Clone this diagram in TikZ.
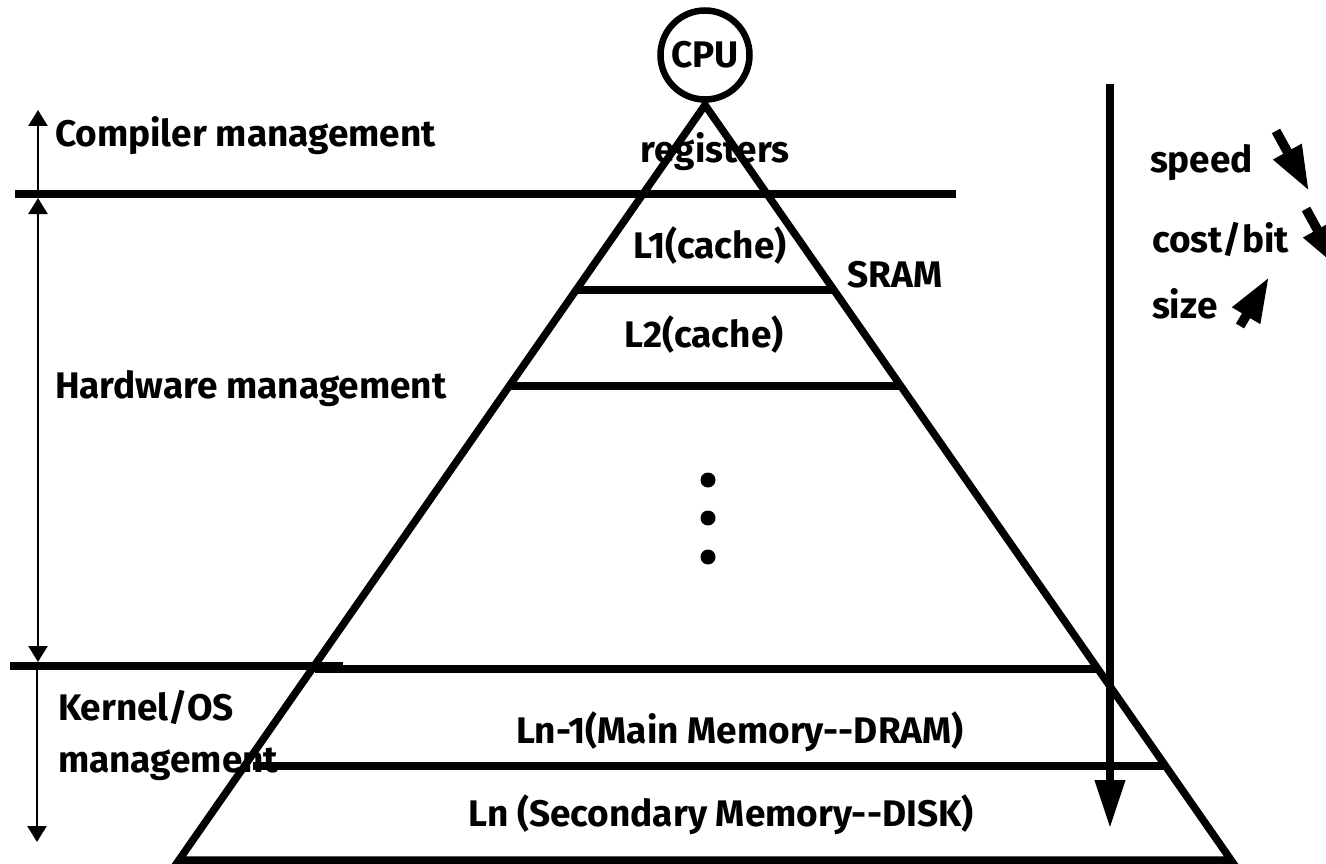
\documentclass[tikz,border=0pt]{standalone}
\usepackage{fontspec}
\setmainfont{Fira Sans}
\usetikzlibrary{arrows.meta,calc}

\tikzset{
  mtip/.tip={Triangle[width=19pt,length=16pt]},
  bigtip/.tip={Triangle[width=29pt,length=48pt]},
  trendtip/.tip={Triangle[width=30pt,length=45pt]}
}

\begin{document}
\begin{tikzpicture}[x=1pt,y=-1pt,
  lbl/.style={font=\bfseries\fontsize{37}{40}\selectfont,inner sep=0pt,outer sep=0pt},
  heavy/.style={line width=7.5pt},
  mgmt/.style={line width=2.5pt},
  trend/.style={line width=9.5pt,-{trendtip}},
  dotnode/.style={circle,fill,minimum size=15pt,inner sep=0pt}]

\useasboundingbox (0,0) rectangle (1326,864);

% CPU at the tip of the pyramid
\node[circle,draw,line width=6.5pt,minimum size=89pt,inner sep=0pt,lbl] (cpu) at (705,55) {CPU};

% pyramid corners
\coordinate (apex) at (705,105);
\coordinate (bl) at (179,860);
\coordinate (br) at (1231,860);
\draw[heavy,line join=miter] (apex) -- (bl) -- (br) -- cycle;

% level boundaries
\coordinate (c1) at (15,194);   \coordinate (c2) at (956,194);
\coordinate (l1a) at (577,290); \coordinate (l1b) at (835,290);
\coordinate (l2a) at (510,386); \coordinate (l2b) at (900,386);
\coordinate (k1) at (10,666);   \coordinate (k2) at (343,666);
\coordinate (k3) at (315,669);  \coordinate (k4) at (1098,669);
\coordinate (m1) at (253,766);  \coordinate (m2) at (1167,766);
\draw[heavy] (c1) -- (c2);
\draw[heavy] (l1a) -- (l1b);
\draw[heavy] (l2a) -- (l2b);
\draw[heavy] (k1) -- (k2);
\draw[heavy] (k3) -- (k4);
\draw[heavy] (m1) -- (m2);

% level labels
\node[lbl,anchor=base] (regs) at (715,163) {registers};
\node[lbl,anchor=base] (l1) at (710,258) {L1(cache)};
\node[lbl,anchor=base] (sram) at (895,287) {SRAM};
\node[lbl,anchor=base] (l2) at (704,347) {L2(cache)};
\node[lbl,anchor=base] (lnm1) at (740,743) {Ln-1(Main Memory-{}-DRAM)};
\node[lbl,anchor=base] (ln) at (721,826) {Ln (Secondary Memory-{}-DISK)};

% intermediate levels
\node[dotnode] (d1) at (708,480) {};
\node[dotnode] (d2) at (708,518) {};
\node[dotnode] (d3) at (708,557) {};

% management ranges
\node[lbl,anchor=base west] (comp) at (55,147) {Compiler management};
\node[lbl,anchor=base west] (hw) at (55,398) {Hardware management};
\node[lbl,anchor=base west] (kern) at (58,720) {Kernel/OS};
\node[lbl,anchor=base west] (kern2) at (58,772) {management};

\coordinate (ca) at (38,194);  \coordinate (cb) at (38,110);
\coordinate (ha) at (38,198);  \coordinate (hb) at (38,662);
\coordinate (ka) at (37,668);  \coordinate (kb) at (37,842);
\draw[mgmt,-{mtip}] (ca) -- (cb);
\draw[mgmt,{mtip}-{mtip}] (ha) -- (hb);
\draw[mgmt,-{mtip}] (ka) -- (kb);

% downward trend arrow
\coordinate (ta) at (1110,84);
\coordinate (tb) at (1110,828);
\draw[line width=7.5pt,-{bigtip}] (ta) -- (tb);

% trend legend
\node[lbl,anchor=base west] (speed) at (1150,173) {speed};
\node[lbl,anchor=base west] (cost) at (1152,252) {cost/bit};
\node[lbl,anchor=base west] (size) at (1152,318) {size};

\coordinate (sa) at (1276,131);  \coordinate (sb) at (1309,191);
\coordinate (pa) at (1306,209);  \coordinate (pb) at (1339,269);
\coordinate (za) at (1240,326);  \coordinate (zb) at (1269,277);
\draw[trend] (sa) -- (sb);
\draw[trend] (pa) -- (pb);
\draw[trend] (za) -- (zb);
\end{tikzpicture}
\end{document}
